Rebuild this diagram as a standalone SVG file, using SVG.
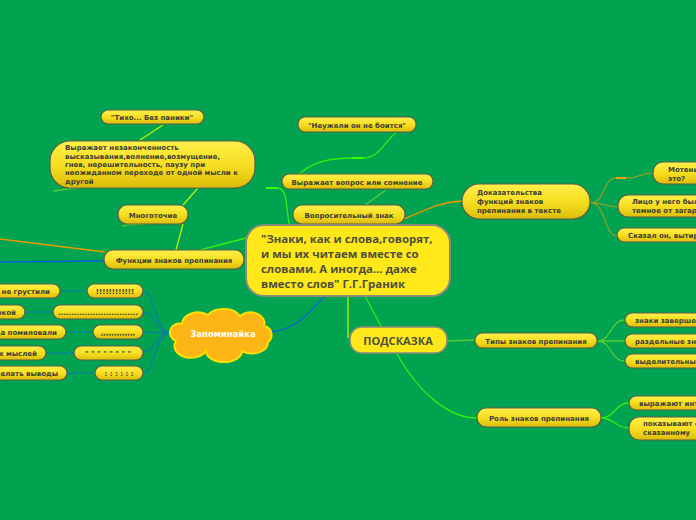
<svg xmlns="http://www.w3.org/2000/svg" width="696" height="520" viewBox="0 0 696 520">
<defs>
<linearGradient id="yg" x1="0" y1="0" x2="0" y2="1">
<stop offset="0" stop-color="#fff04a"/>
<stop offset="0.55" stop-color="#f5dc1e"/>
<stop offset="1" stop-color="#dcbc0a"/>
</linearGradient>
<style>
.n{fill:url(#yg);stroke:#5c5c4a;stroke-width:1.2}
.t{font-family:"DejaVu Sans",Verdana,sans-serif;font-weight:bold;font-size:7px;fill:#3e3e36}
.c{text-anchor:middle}
.big{font-family:"Open Sans","Noto Sans",sans-serif;font-weight:bold;font-size:11.4px;fill:#4e4e3c}
.g1{stroke:#33ee11;fill:none;stroke-width:1.3}
.g2{stroke:#bff000;fill:none;stroke-width:1.3}
.g3{stroke:#55cc33;fill:none;stroke-width:1.3}
.or{stroke:#e89a00;fill:none;stroke-width:1.3}
.ol{stroke:#a8a020;fill:none;stroke-width:1.1}
.bl{stroke:#0a5fd8;fill:none;stroke-width:1.3}
.tl{stroke:#0a78b0;fill:none;stroke-width:1.1}
.st{stroke:#33ff00;fill:none;stroke-width:2}
</style>
</defs>
<rect width="696" height="520" fill="#01a350"/>
<g id="connectors">
<path class="or" d="M0,239 L105,252"/>
<path class="bl" d="M0,262 L104,261"/>
<path class="g1" d="M200,250 L246,238"/>
<path class="g2" d="M176,250 L183,224"/>
<path class="g3" d="M122,226 Q130,224 145,224"/>
<path class="g2" d="M183,205 L198,188"/>
<path class="g3" d="M53,191 L82,187"/>
<path class="g2" d="M140,140 L163,125"/>
<path class="g1" d="M290,228 C285,205 288,190 278,188"/>
<path class="st" d="M266,188 L278,188"/>
<path class="g1" d="M285,188 C305,165 320,158 353,158"/>
<path class="st" d="M352,158 L363,158"/>
<path class="g1" d="M363,158 C380,158 385,140 396,133"/>
<path class="g3" d="M365,205 L386,190"/>
<path class="or" d="M402,220 C425,210 440,202 462,201"/>
<path class="bl" d="M272,332 C300,328 310,310 325,296"/>
<path class="g2" d="M348,296 L348,338"/>
<path class="g1" d="M365,296 L381,326"/>
<path class="g1" d="M397,354 C420,395 450,418 477,418"/>
<path class="g3" d="M447,341 L475,340"/>
<path class="g3" d="M597,341 C612,341 610,320 625,320 M597,341 L625,341 M597,341 C612,341 610,361 625,361"/>
<path class="g1" d="M601,418 C615,418 615,403 629,403 M601,418 C615,418 615,428 629,428"/>
<path class="ol" d="M591,203 C605,203 603,178 616,178 M591,203 C608,203 606,207 618,207 M591,203 C606,203 604,236 617,236"/>
<path d="M616,178 L626,178" stroke="#ff9a00" stroke-width="2" fill="none"/>
<path class="ol" d="M626,178 C640,178 640,173 653,173"/>
<path class="tl" d="M170,333 C155,333 155,291 143,291 M170,333 C155,333 155,312 143,312 M170,333 C156,333 155,332 143,332 M170,333 C156,333 155,352 143,352 M170,333 C155,333 155,373 143,373"/>
<path class="tl" d="M87,291 L60,291 M53,312 L25,312 M93,332 L66,332 M74,353 L46,353 M95,373 L67,373"/>
</g>
<g id="n-left1"><rect class="n" x="-40" y="284" width="100" height="14" rx="7"/><text class="t" x="50" y="294" text-anchor="end">чтоб не грустили</text></g>
<g id="n-left2"><rect class="n" x="-40" y="305" width="65" height="14" rx="7"/><text class="t" x="16" y="315" text-anchor="end">строкой</text></g>
<g id="n-left3"><rect class="n" x="-40" y="325" width="106" height="14" rx="7"/><text class="t" x="57" y="335" text-anchor="end">когда помиловали</text></g>
<g id="n-left4"><rect class="n" x="-40" y="346" width="86" height="14" rx="7"/><text class="t" x="37" y="356" text-anchor="end">чужих мыслей</text></g>
<g id="n-left5"><rect class="n" x="-40" y="366" width="107" height="14" rx="7"/><text class="t" x="58" y="376" text-anchor="end">сделать выводы</text></g>
<g id="n-ex1"><rect class="n" x="87" y="284" width="56" height="14" rx="7"/><text class="t c" x="115" y="294">!!!!!!!!!!!!</text></g>
<g id="n-ex2"><rect class="n" x="53" y="305" width="90" height="14" rx="7"/><text class="t c" x="98" y="315">..............................</text></g>
<g id="n-ex3"><rect class="n" x="93" y="325" width="50" height="14" rx="7"/><text class="t c" x="118" y="335">,,,,,,,,,,,,,</text></g>
<g id="n-ex4"><rect class="n" x="74" y="346" width="69" height="14" rx="7"/><text class="t c" x="108" y="356">" " " " " " " "</text></g>
<g id="n-ex5"><rect class="n" x="95" y="366" width="48" height="14" rx="7"/><text class="t c" x="119" y="376">: : : : : :</text></g>
<g id="n-zap">
<path d="M182,324 A16,12 0 0 1 208,315 A18,12 0 0 1 240,316 A14,11 0 0 1 264,326 A9,9 0 0 1 268,342 A16,11 0 0 1 242,351 A18,11 0 0 1 206,351 A14,10 0 0 1 176,341 A9,9 0 0 1 182,324 Z" fill="#fbb616" stroke="#ffe000" stroke-width="2"/>
<text x="223" y="337" text-anchor="middle" font-family="DejaVu Sans,sans-serif" font-weight="bold" font-size="8.5" fill="#ffffff">Запоминайка</text>
</g>
<g id="n-tiho"><rect class="n" x="101" y="110" width="103" height="14" rx="7"/><text class="t c" x="152" y="120">"Тихо... Без паники"</text></g>
<g id="n-nezak"><rect class="n" x="50" y="141" width="205" height="47" rx="20"/>
<text class="t" x="65" y="150">Выражает незаконченность</text>
<text class="t" x="65" y="159">высказывания,волнение,возмущение,</text>
<text class="t" x="65" y="167">гнев, нерешительность, паузу при</text>
<text class="t" x="65" y="175">неожиданном переходе от одной мысли к</text>
<text class="t" x="65" y="184">другой</text></g>
<g id="n-mnog"><rect class="n" x="118" y="205" width="70" height="19" rx="9"/><text class="t c" x="153" y="218">Многоточие</text></g>
<g id="n-func"><rect class="n" x="104" y="250" width="140" height="19" rx="9"/><text class="t c" x="174" y="263">Функции знаков препинания</text></g>
<g id="n-neuz"><rect class="n" x="298" y="117" width="118" height="15" rx="7"/><text class="t c" x="357" y="128">"Неужели он не боится"</text></g>
<g id="n-vopr"><rect class="n" x="282" y="174" width="151" height="15" rx="7"/><text class="t c" x="357" y="185">Выражает вопрос или сомнение</text></g>
<g id="n-vzn"><rect class="n" x="293" y="205" width="112" height="19" rx="9"/><text class="t c" x="349" y="218">Вопросительный знак</text></g>
<g id="n-center"><rect x="246" y="225" width="204" height="71" rx="18" fill="#ffe81a" stroke="#8a8a7a" stroke-width="2"/>
<text class="big" x="261" y="243">"Знаки, как и слова,говорят,</text>
<text class="big" x="261" y="258">и мы их читаем вместе со</text>
<text class="big" x="261" y="273">словами. А иногда... даже</text>
<text class="big" x="261" y="288">вместо слов" Г.Г.Граник</text></g>
<g id="n-podsk"><rect x="350" y="327" width="97" height="26" rx="12" fill="#ffe81a" stroke="#8a8a7a" stroke-width="1.6"/><text class="big c" x="398" y="345" style="font-size:11px">ПОДСКАЗКА</text></g>
<g id="n-dok"><rect class="n" x="462" y="184" width="128" height="35" rx="17"/>
<text class="t" x="477" y="195">Доказательства</text>
<text class="t" x="477" y="204">функций знаков</text>
<text class="t" x="477" y="213">препинания в тексте</text></g>
<g id="n-mot"><rect class="n" x="653" y="162" width="80" height="22" rx="10"/><text class="t" x="668" y="172">Мотенька, ты ли</text><text class="t" x="668" y="181">это?</text></g>
<g id="n-lico"><rect class="n" x="618" y="195" width="110" height="22" rx="10"/><text class="t" x="632" y="204">Лицо у него было</text><text class="t" x="632" y="213">темное от загара</text></g>
<g id="n-skaz"><rect class="n" x="617" y="228" width="110" height="14" rx="7"/><text class="t" x="628" y="238">Сказал он, вытирая</text></g>
<g id="n-tipy"><rect class="n" x="475" y="333" width="122" height="15" rx="7"/><text class="t c" x="536" y="344">Типы знаков препинания</text></g>
<g id="n-zav"><rect class="n" x="625" y="313" width="100" height="14" rx="7"/><text class="t" x="635" y="323">знаки завершения</text></g>
<g id="n-razd"><rect class="n" x="625" y="334" width="100" height="14" rx="7"/><text class="t" x="635" y="344">раздельные знаки</text></g>
<g id="n-vyd"><rect class="n" x="625" y="354" width="110" height="14" rx="7"/><text class="t" x="635" y="364">выделительные знаки</text></g>
<g id="n-rol"><rect class="n" x="477" y="408" width="124" height="19" rx="9"/><text class="t c" x="539" y="421">Роль знаков препинания</text></g>
<g id="n-intn"><rect class="n" x="629" y="396" width="110" height="14" rx="7"/><text class="t" x="639" y="406">выражают интонацию</text></g>
<g id="n-otn"><rect class="n" x="629" y="417" width="120" height="23" rx="10"/><text class="t" x="643" y="426">показывают отношение к</text><text class="t" x="643" y="435">сказанному</text></g>
</svg>
